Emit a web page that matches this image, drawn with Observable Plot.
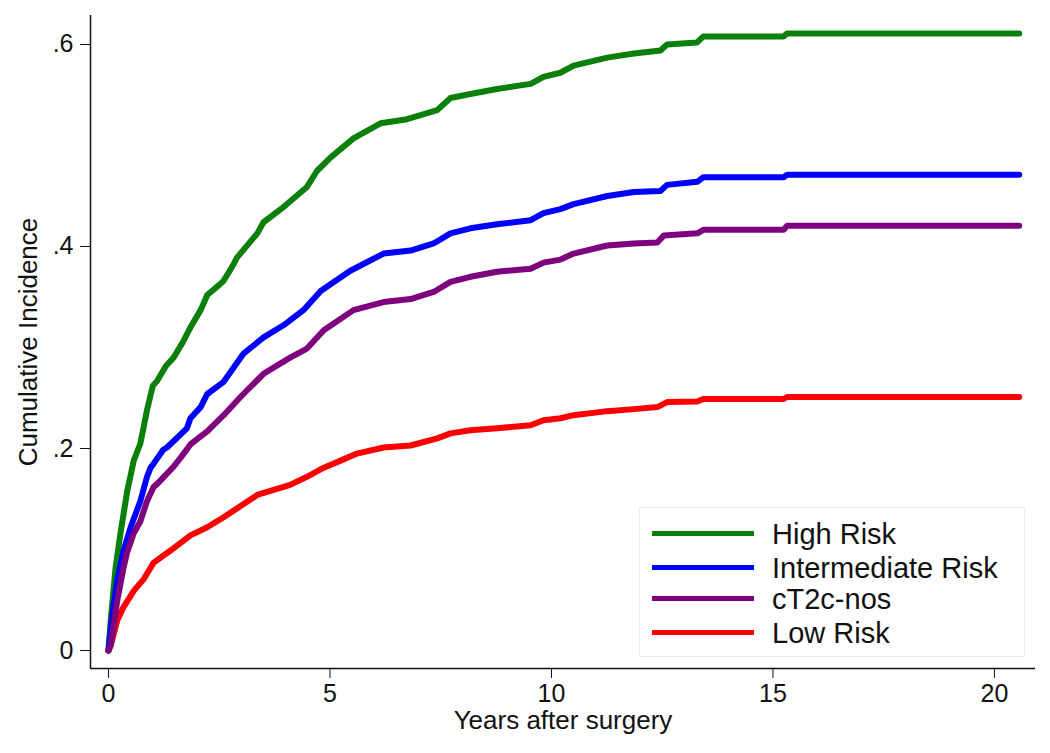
<!DOCTYPE html>
<html>
<head>
<meta charset="utf-8">
<script src="https://cdn.jsdelivr.net/npm/d3@7"></script>
<script src="https://cdn.jsdelivr.net/npm/@observablehq/plot@0.6"></script>
<style>
  html, body { margin: 0; padding: 0; background: #fff; }
  #wrap { position: relative; width: 1050px; height: 753px; font-family: Arial, "Liberation Sans", sans-serif; }
  #legend { position: absolute; left: 639px; top: 507px; width: 386px; height: 150px; border: 1px solid #ebebeb; box-sizing: border-box; background: #fff; }
  .row { position: absolute; left: 0; height: 34px; }
  .sw { position: absolute; left: 12px; width: 102px; height: 5px; top: 14px; }
  .lb { position: absolute; left: 132px; top: 0; line-height: 34px; font-size: 29px; color: #111; white-space: nowrap; }
</style>
</head>
<body>
<div id="wrap"></div>
<script>
// ---- Data ----
const seriesNames = ["High Risk", "Intermediate Risk", "cT2c-nos", "Low Risk"];
const seriesColors = ["#0a7f0a", "#0000ff", "#7f007f", "#ff0000"];

const highYears = [0,0.05,0.16,0.27,0.42,0.57,0.72,0.87,1.0,1.1,1.3,1.47,1.7,1.85,2.08,2.23,2.5,2.6,2.83,2.9,3.36,3.5,3.95,4.03,4.48,4.71,5.01,5.53,6.14,6.74,7.42,7.72,8.17,8.77,9.53,9.82,10.2,10.5,11.26,11.86,12.46,12.61,13.29,13.43,15.24,15.32,20.56];
const highInc   = [0,0.03,0.082,0.116,0.157,0.188,0.205,0.238,0.262,0.267,0.282,0.290,0.307,0.320,0.337,0.352,0.362,0.366,0.383,0.389,0.413,0.424,0.439,0.442,0.459,0.475,0.488,0.507,0.522,0.526,0.535,0.547,0.551,0.556,0.561,0.568,0.572,0.579,0.587,0.591,0.594,0.600,0.602,0.608,0.608,0.611,0.611];

const interYears = [0,0.1,0.2,0.34,0.5,0.72,0.87,0.95,1.02,1.24,1.32,1.77,1.85,2.08,2.23,2.6,3.05,3.5,3.95,4.4,4.79,5.46,6.21,6.82,7.34,7.72,8.17,8.77,9.53,9.82,10.2,10.5,11.26,11.86,12.46,12.61,13.29,13.43,15.24,15.32,20.56];
const interInc   = [0,0.04,0.07,0.099,0.122,0.148,0.172,0.181,0.185,0.199,0.201,0.220,0.230,0.241,0.254,0.266,0.294,0.310,0.322,0.337,0.356,0.376,0.393,0.396,0.403,0.413,0.418,0.422,0.426,0.433,0.437,0.442,0.450,0.454,0.455,0.461,0.464,0.4686,0.4686,0.471,0.471];

const t2cYears = [0,0.05,0.2,0.34,0.42,0.57,0.72,0.87,1.02,1.1,1.47,1.63,1.85,2.08,2.23,2.6,2.98,3.5,4.1,4.48,4.86,5.53,6.21,6.82,7.34,7.72,8.17,8.77,9.53,9.82,10.2,10.5,11.26,11.86,12.39,12.54,13.29,13.43,15.24,15.32,20.56];
const t2cInc   = [0,0.005,0.05,0.082,0.097,0.116,0.128,0.148,0.162,0.165,0.182,0.191,0.204,0.212,0.217,0.233,0.251,0.274,0.290,0.299,0.317,0.337,0.345,0.348,0.355,0.365,0.370,0.375,0.378,0.384,0.387,0.393,0.401,0.403,0.404,0.411,0.413,0.4165,0.4165,0.4205,0.4205];

const lowYears = [0,0.05,0.2,0.34,0.57,0.8,1.02,1.4,1.85,2.23,2.6,3.05,3.36,3.58,4.1,4.48,4.86,5.24,5.61,6.21,6.82,7.42,7.72,8.17,8.77,9.53,9.82,10.2,10.5,11.26,11.86,12.39,12.61,13.29,13.43,15.24,15.32,20.56];
const lowInc   = [0,0.005,0.03,0.043,0.059,0.071,0.087,0.099,0.114,0.122,0.132,0.145,0.154,0.157,0.164,0.172,0.181,0.188,0.195,0.201,0.203,0.210,0.215,0.218,0.220,0.223,0.228,0.230,0.233,0.237,0.239,0.241,0.246,0.2465,0.249,0.249,0.251,0.251];

const xTicks = [0, 5, 10, 15, 20];
const yTicks = [0, 0.2, 0.4, 0.6];
const xTitle = "Years after surgery";
const yTitle = "Cumulative Incidence";

// ---- Build table ----
const toRows = (name, xs, ys) => xs.map((x, i) => ({series: name, year: x, inc: ys[i]}));
const drawOrder = [
  toRows("Low Risk", lowYears, lowInc),
  toRows("High Risk", highYears, highInc),
  toRows("Intermediate Risk", interYears, interInc),
  toRows("cT2c-nos", t2cYears, t2cInc)
];

const xDomain = [-0.406, 20.927];
const yDomain = [-0.0178, 0.6287];
const fmtY = d => d === 0 ? "0" : d3.format(".1f")(d).replace(/^0/, "");

const chart = Plot.plot({
  width: 1050,
  height: 753,
  marginLeft: 90,
  marginRight: 15,
  marginTop: 15,
  marginBottom: 85,
  style: {fontFamily: 'Arial, "Liberation Sans", sans-serif', fontSize: "25px", color: "#111", background: "#fff"},
  x: {domain: xDomain},
  y: {domain: yDomain},
  color: {domain: seriesNames, range: seriesColors},
  marks: [
    Plot.axisX({ticks: xTicks, tickSize: 10, tickPadding: 6, label: null, fontSize: 25}),
    Plot.axisY({ticks: yTicks, tickSize: 10, tickPadding: 7, tickFormat: fmtY, label: null, fontSize: 25}),
    Plot.ruleX([xDomain[0]], {stroke: "#111", strokeWidth: 1.5}),
    Plot.ruleY([yDomain[0]], {stroke: "#111", strokeWidth: 1.5}),
    ...drawOrder.map(rows => Plot.line(rows, {
      x: "year", y: "inc", stroke: "series",
      strokeWidth: 6, strokeLinecap: "round", strokeLinejoin: "round"
    })),
    Plot.text([xTitle], {frameAnchor: "bottom", dy: 52, textAnchor: "middle", lineAnchor: "middle", fontSize: 26, fill: "#111"}),
    Plot.text([yTitle], {frameAnchor: "left", dx: -62, rotate: -90, textAnchor: "middle", lineAnchor: "middle", fontSize: 26, fill: "#111"})
  ]
});

const wrap = document.getElementById("wrap");
wrap.appendChild(chart);

// ---- Legend ----
const legend = document.createElement("div");
legend.id = "legend";
const rowTops = [9, 43, 74, 108];
seriesNames.forEach((name, i) => {
  const row = document.createElement("div");
  row.className = "row";
  row.style.top = rowTops[i] + "px";
  row.style.width = "380px";
  const sw = document.createElement("div");
  sw.className = "sw";
  sw.style.background = seriesColors[i];
  const lb = document.createElement("div");
  lb.className = "lb";
  lb.textContent = name;
  row.appendChild(sw);
  row.appendChild(lb);
  legend.appendChild(row);
});
wrap.appendChild(legend);
</script>
</body>
</html>
